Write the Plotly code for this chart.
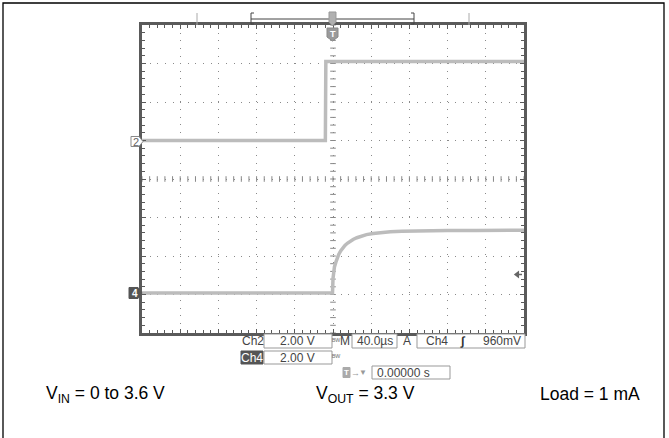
import numpy as np
import plotly.graph_objects as go

# ---- acquisition data: 40 us/div time base, 2.00 V/div on both channels ----
t_ch2 = [-200, -8, -7.5, 200]                      # us
v_ch2 = [0.0, 0.0, 4.1, 4.1]                       # V  (input step)
t_ch4 = [-200, -0.5, 0, 0.5, 1.5, 3, 4.5, 6, 8, 10, 12.5, 15, 18, 21, 25, 30,
         35, 42, 50, 60, 72, 85, 100, 120, 150, 200]
v_ch4 = [0.0, 0.0, 0.75, 1.1, 1.35, 1.6, 1.82, 2.0, 2.18, 2.33, 2.47, 2.58,
         2.69, 2.78, 2.87, 2.96, 3.03, 3.09, 3.14, 3.18, 3.2, 3.22, 3.23,
         3.24, 3.25, 3.26]                         # V  (output rise)

VOLTS_PER_DIV = 2.0
CH2_GND = 1.0          # ground reference position, divisions from centre
CH4_GND = -2.96
TRIG_LEVEL = 0.96      # V on Ch4

readout_row1 = ["Ch2", "2.00 V", "M", "40.0\u00b5s", "A", "Ch4", "\u222b", "960mV"]
readout_row2 = ["Ch4", "2.00 V"]
readout_row3 = "0.00000 s"
captions = ["V<sub>IN</sub> = 0 to 3.6 V", "V<sub>OUT</sub> = 3.3 V", "Load = 1 mA"]

# plot-area pixel frame
L, R, T, B = 142, 524, 25, 333
W, H = R - L, B - T


def px(x):
    return (x - L) / W


def py(y):
    return (B - y) / H


def to_div(v, gnd):
    return [gnd + vv / VOLTS_PER_DIV for vv in v]


FONT = "Liberation Sans, Arial, Helvetica, sans-serif"
GREY_TXT = "#444444"
TRACE = "#bcbcbc"

fig = go.Figure()

# centre graticule cross-hair ticks
xs = np.arange(-200, 200.1, 8)
ys = np.arange(-4, 4.01, 0.2)
fig.add_trace(go.Scatter(x=xs, y=np.zeros_like(xs), mode="markers",
                         marker=dict(symbol="line-ns", size=4,
                                     line=dict(color="#888", width=1)),
                         hoverinfo="skip", showlegend=False))
fig.add_trace(go.Scatter(x=np.zeros_like(ys), y=ys, mode="markers",
                         marker=dict(symbol="line-ew", size=4,
                                     line=dict(color="#888", width=1)),
                         hoverinfo="skip", showlegend=False))

# channel traces
fig.add_trace(go.Scatter(x=t_ch2, y=to_div(v_ch2, CH2_GND), mode="lines",
                         line=dict(color=TRACE, width=3.5), name="Ch2",
                         showlegend=False))
fig.add_trace(go.Scatter(x=t_ch4, y=to_div(v_ch4, CH4_GND), mode="lines",
                         line=dict(color=TRACE, width=3.5), name="Ch4",
                         showlegend=False))

# trigger level arrow on the right edge
trig_div = CH4_GND + TRIG_LEVEL / VOLTS_PER_DIV
fig.add_trace(go.Scatter(x=[193], y=[trig_div], mode="markers",
                         marker=dict(symbol="triangle-left", size=7, color="#666"),
                         hoverinfo="skip", showlegend=False))

shapes = []
annotations = []


def line(x0, y0, x1, y1, color="#444", width=1):
    shapes.append(dict(type="line", xref="paper", yref="paper",
                       x0=px(x0), y0=py(y0), x1=px(x1), y1=py(y1),
                       line=dict(color=color, width=width)))


def rect(x0, y0, x1, y1, fill="white", color="#999", width=1):
    shapes.append(dict(type="rect", xref="paper", yref="paper",
                       x0=px(x0), y0=py(y0), x1=px(x1), y1=py(y1),
                       fillcolor=fill, line=dict(color=color, width=width)))


def poly(pts, fill, color, width=1):
    path = "M " + " L ".join(f"{px(x):.5f},{py(y):.5f}" for x, y in pts) + " Z"
    shapes.append(dict(type="path", xref="paper", yref="paper", path=path,
                       fillcolor=fill, line=dict(color=color, width=width)))


def label(x, y, text, size=12, color=GREY_TXT, xanchor="center"):
    annotations.append(dict(x=px(x), y=py(y), xref="paper", yref="paper",
                            text=text, showarrow=False, xanchor=xanchor,
                            yanchor="middle", borderpad=0,
                            font=dict(family=FONT, size=size, color=color)))


# outer frame of the figure
shapes.append(dict(type="rect", xref="paper", yref="paper",
                   x0=px(3), x1=px(664), y0=py(460), y1=py(3),
                   line=dict(color="black", width=1.3), fillcolor="rgba(0,0,0,0)"))

# record-length bar above the graticule
line(197, 13, 197, 25, color="#aaa")
line(469, 13, 469, 25, color="#aaa")
line(251, 19, 414, 19, color="#444")
line(251, 13, 251, 24, color="#444")
line(414, 13, 414, 24, color="#444")
line(251, 13, 254, 13, color="#444")
line(251, 24, 254, 24, color="#444")
line(411, 13, 414, 13, color="#444")
line(411, 24, 414, 24, color="#444")
poly([(329, 12), (336, 12), (336, 22), (332.5, 26), (329, 22)], "#b0b0b0", "#999")

# trigger position marker
poly([(327, 28), (338, 28), (338, 37), (332.5, 41), (327, 37)], "#9a9a9a", "#8a8a8a")
label(332.5, 33.5, "<b>T</b>", size=9, color="white")

# channel ground markers
poly([(131, 136.5), (139, 136.5), (143, 141.5), (139, 146.5), (131, 146.5)], "white", "#888")
label(136, 141.5, "2", size=11, color="#666")
poly([(129, 287.5), (138, 287.5), (142, 293), (138, 298.5), (129, 298.5)], "#555", "#555")
label(134.5, 293, "<b>4</b>", size=10, color="white")

# short stem of the trigger-level arrow
line(517, 274.5, 522, 274.5, color="#666", width=1.5)

# readout row 1
label(253, 341, readout_row1[0])
rect(264, 334, 332, 348)
label(297, 341, readout_row1[1])
label(336, 341, "\u1d2e\u1d42", size=8, color="#777")
label(345, 341, readout_row1[2])
rect(352, 334, 397, 348)
label(375, 341, readout_row1[3])
label(407, 341, readout_row1[4])
rect(417, 334, 525, 348)
label(437, 341, readout_row1[5])
label(463, 341, "<b>" + readout_row1[6] + "</b>", size=12, color="#333")
label(522, 341, readout_row1[7], xanchor="right")

# readout row 2
rect(241, 351, 263, 364, fill="#555", color="#555")
label(252, 357.5, readout_row2[0], color="white")
rect(264, 351, 332, 364)
label(297, 357.5, readout_row2[1])
label(336, 357.5, "\u1d2e\u1d42", size=8, color="#777")

# readout row 3: horizontal position
rect(343, 367.5, 350, 377.5, fill="#aaa", color="#aaa")
label(346.5, 372.5, "<b>T</b>", size=8, color="white")
label(355.5, 372.5, "\u2192", size=9, color="#999")
label(363, 372, "\u25bc", size=8, color="#999")
rect(372, 366, 450, 379)
label(376, 372.5, readout_row3, xanchor="left")

# caption line
label(105, 394, captions[0], size=17.5, color="black")
label(365, 394, captions[1], size=17.5, color="black")
label(590, 394, captions[2], size=17.5, color="black")

axis_common = dict(showticklabels=False, showline=True, linecolor="#5a5a5a",
                   linewidth=2.5, mirror="allticks", ticks="inside", ticklen=4,
                   tickcolor="#5a5a5a", tickwidth=1, zeroline=False,
                   showgrid=True, gridcolor="#8a8a8a", gridwidth=1,
                   griddash="1px,6.64px", fixedrange=True)

fig.update_layout(
    width=669, height=438,
    margin=dict(l=L, r=669 - R, t=T, b=438 - B),
    paper_bgcolor="white", plot_bgcolor="white",
    xaxis=dict(range=[-200, 200], dtick=40, tick0=-200,
               minor=dict(ticks="inside", ticklen=3, dtick=8, tick0=-200,
                          tickcolor="#5a5a5a", showgrid=False),
               **axis_common),
    yaxis=dict(range=[-4, 4], dtick=1, tick0=-4,
               minor=dict(ticks="inside", ticklen=3, dtick=0.2, tick0=-4,
                          tickcolor="#5a5a5a", showgrid=False),
               **axis_common),
    shapes=shapes,
    annotations=annotations,
    showlegend=False,
)

fig.write_html("out.html", config={"displayModeBar": False})
